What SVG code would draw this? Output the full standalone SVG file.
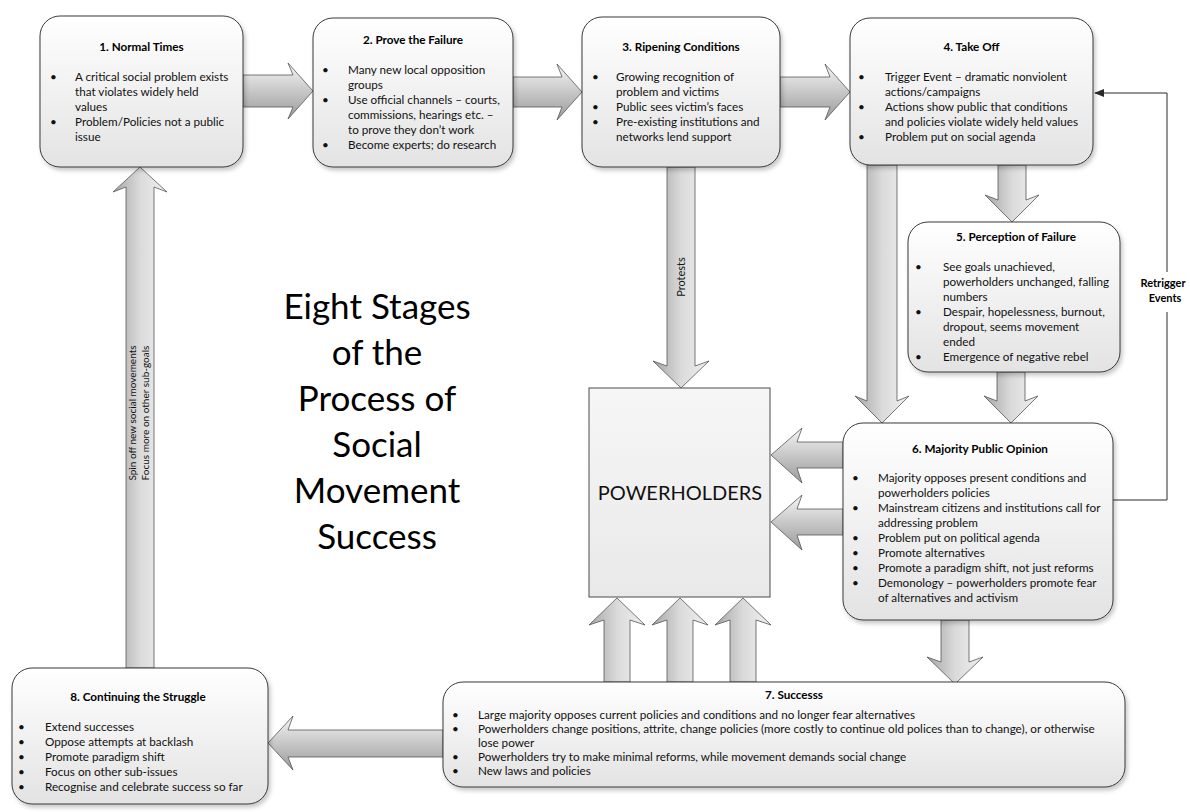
<svg xmlns="http://www.w3.org/2000/svg" width="1190" height="812" viewBox="0 0 1190 812">
<style>
text{font-family:Lato,"Liberation Sans",sans-serif;fill:#111}
.t{font-size:11.7px}
.r{font-size:10px}
.h{font-size:11.7px;font-weight:bold;text-anchor:middle;fill:#000}
.rt{font-size:11px;font-weight:bold;text-anchor:middle;fill:#000}
.box{fill:url(#gBox);stroke:#3a3a3a;stroke-width:1;filter:url(#sh)}
.ah{fill:url(#gH);stroke:#555;stroke-width:0.8}
.av{fill:url(#gV);stroke:#555;stroke-width:0.8}
.big{font-size:35px;text-anchor:middle;fill:#000}
.conn{fill:none;stroke:#2a2a2a;stroke-width:1}
</style>
<defs>
<linearGradient id="gBox" x1="0" y1="0" x2="0" y2="1"><stop offset="0" stop-color="#ffffff"/><stop offset="1" stop-color="#e3e3e3"/></linearGradient>
<linearGradient id="gPH" x1="0" y1="0" x2="0" y2="1"><stop offset="0" stop-color="#f6f6f6"/><stop offset="1" stop-color="#e9e9e9"/></linearGradient>
<linearGradient id="gH" x1="0" y1="0" x2="0" y2="1"><stop offset="0" stop-color="#f5f5f5"/><stop offset="1" stop-color="#9a9a9a"/></linearGradient>
<linearGradient id="gV" x1="0" y1="0" x2="1" y2="0"><stop offset="0" stop-color="#a5a5a5"/><stop offset="0.5" stop-color="#dadada"/><stop offset="1" stop-color="#f0f0f0"/></linearGradient>
<filter id="sh" x="-10%" y="-10%" width="125%" height="130%"><feDropShadow dx="2" dy="3" stdDeviation="2" flood-color="#000" flood-opacity="0.22"/></filter>
<marker id="tri" markerWidth="10" markerHeight="8" refX="9" refY="4" orient="auto" markerUnits="userSpaceOnUse"><path d="M0,0 L10,4 L0,8 Z" fill="#2a2a2a"/></marker>
</defs>

<g id="connectors">
<path class="ah" d="M243,75 H293 L288,63 L313,91 L288,119 L293,107 H243 Z"/>
<path class="ah" d="M513,77 H562 L557,64 L582,92 L557,120 L562,107 H513 Z"/>
<path class="ah" d="M780,77 H830 L825,64 L850,92 L825,120 L830,107 H780 Z"/>
<path class="av" d="M667,167 V366 L653,361 L681,388 L709,361 L695,366 V167 Z"/>
<text class="t" transform="translate(685,277) rotate(-90)" text-anchor="middle" style="font-size:11px">Protests</text>
<path class="av" d="M867,165 V401 L855,396 L882,423 L909,396 L897,401 V165 Z"/>
<path class="av" d="M998,165 V200 L985,195 L1012,222 L1039,195 L1026,200 V165 Z"/>
<path class="av" d="M997,372 V401 L984,396 L1011,423 L1038,396 L1025,401 V372 Z"/>
<path class="ah" d="M843,442 H797 L802,428 L771,455 L802,483 L797,468 H843 Z"/>
<path class="ah" d="M843,509 H797 L802,495 L771,522 L802,550 L797,535 H843 Z"/>
<path class="av" d="M604,682 V620 L589,625 L617,598 L645,625 L630,620 V682 Z"/>
<path class="av" d="M667,682 V620 L652,625 L680,598 L708,625 L693,620 V682 Z"/>
<path class="av" d="M730,682 V620 L715,625 L743,598 L771,625 L756,620 V682 Z"/>
<path class="av" d="M941,620 V662 L927,657 L955,684 L983,657 L969,662 V620 Z"/>
<path class="ah" d="M443,730 H288 L293,716 L268,743 L293,770 L288,757 H443 Z"/>
<path class="av" d="M126,668 V187 L113,192 L140,167 L167,192 L154,187 V668 Z"/>
<text class="r" transform="translate(136,413) rotate(-90)" text-anchor="middle">Spin off new social movements</text>
<text class="r" transform="translate(149,413) rotate(-90)" text-anchor="middle">Focus more on other sub-goals</text>
<path class="conn" d="M1113,500 H1167 V93 H1095" marker-end="url(#tri)"/>
<rect x="1136" y="272" width="54" height="40" fill="#fff"/>
<text class="rt" x="1163" y="287">Retrigger</text>
<text class="rt" x="1165" y="302">Events</text>
</g>

<g id="node1">
<rect class="box" x="40" y="16" width="203" height="151" rx="20"/>
<text class="h" x="141.5" y="51">1. Normal Times</text>
<text class="t" x="50" y="81">•</text><text class="t" x="75" y="81">A critical social problem exists</text>
<text class="t" x="75" y="96">that violates widely held</text>
<text class="t" x="75" y="111">values</text>
<text class="t" x="50" y="126">•</text><text class="t" x="75" y="126">Problem/Policies not a public</text>
<text class="t" x="75" y="141">issue</text>
</g>

<g id="node2">
<rect class="box" x="313" y="18" width="200" height="149" rx="20"/>
<text class="h" x="413" y="44">2. Prove the Failure</text>
<text class="t" x="322" y="74">•</text><text class="t" x="348" y="74">Many new local opposition</text>
<text class="t" x="348" y="89">groups</text>
<text class="t" x="322" y="104">•</text><text class="t" x="348" y="104">Use official channels – courts,</text>
<text class="t" x="348" y="119">commissions, hearings etc. –</text>
<text class="t" x="348" y="134">to prove they don’t work</text>
<text class="t" x="322" y="149">•</text><text class="t" x="348" y="149">Become experts; do research</text>
</g>

<g id="node3">
<rect class="box" x="582" y="17" width="198" height="150" rx="20"/>
<text class="h" x="681" y="51">3. Ripening Conditions</text>
<text class="t" x="592" y="81">•</text><text class="t" x="616" y="81">Growing recognition of</text>
<text class="t" x="616" y="96">problem and victims</text>
<text class="t" x="592" y="111">•</text><text class="t" x="616" y="111">Public sees victim’s faces</text>
<text class="t" x="592" y="126">•</text><text class="t" x="616" y="126">Pre-existing institutions and</text>
<text class="t" x="616" y="141">networks lend support</text>
</g>

<g id="node4">
<rect class="box" x="850" y="18" width="243" height="147" rx="20"/>
<text class="h" x="971.5" y="51">4. Take Off</text>
<text class="t" x="858" y="81">•</text><text class="t" x="885" y="81">Trigger Event – dramatic nonviolent</text>
<text class="t" x="885" y="96">actions/campaigns</text>
<text class="t" x="858" y="111">•</text><text class="t" x="885" y="111">Actions show public that conditions</text>
<text class="t" x="885" y="126">and policies violate widely held values</text>
<text class="t" x="858" y="141">•</text><text class="t" x="885" y="141">Problem put on social agenda</text>
</g>

<g id="node5">
<rect class="box" x="908" y="222" width="212" height="150" rx="20"/>
<text class="h" x="1016" y="241">5. Perception of Failure</text>
<text class="t" x="915" y="271">•</text><text class="t" x="943" y="271">See goals unachieved,</text>
<text class="t" x="943" y="286">powerholders unchanged, falling</text>
<text class="t" x="943" y="301">numbers</text>
<text class="t" x="915" y="316">•</text><text class="t" x="943" y="316">Despair, hopelessness, burnout,</text>
<text class="t" x="943" y="331">dropout, seems movement</text>
<text class="t" x="943" y="346">ended</text>
<text class="t" x="915" y="361">•</text><text class="t" x="943" y="361">Emergence of negative rebel</text>
</g>

<g id="node6">
<rect class="box" x="843" y="423" width="270" height="197" rx="20"/>
<text class="h" x="980" y="453">6. Majority Public Opinion</text>
<text class="t" x="852" y="482">•</text><text class="t" x="878" y="482">Majority opposes present conditions and</text>
<text class="t" x="878" y="497">powerholders policies</text>
<text class="t" x="852" y="512">•</text><text class="t" x="878" y="512">Mainstream citizens and institutions call for</text>
<text class="t" x="878" y="527">addressing problem</text>
<text class="t" x="852" y="542">•</text><text class="t" x="878" y="542">Problem put on political agenda</text>
<text class="t" x="852" y="557">•</text><text class="t" x="878" y="557">Promote alternatives</text>
<text class="t" x="852" y="572">•</text><text class="t" x="878" y="572">Promote a paradigm shift, not just reforms</text>
<text class="t" x="852" y="587">•</text><text class="t" x="878" y="587">Demonology – powerholders promote fear</text>
<text class="t" x="878" y="602">of alternatives and activism</text>
</g>

<g id="node7">
<rect class="box" x="443" y="682" width="682" height="105" rx="20"/>
<text class="h" x="794" y="699">7. Successs</text>
<text class="t" x="452" y="719">•</text><text class="t" x="478" y="719">Large majority opposes current policies and conditions and no longer fear alternatives</text>
<text class="t" x="452" y="733">•</text><text class="t" x="478" y="733">Powerholders change positions, attrite, change policies (more costly to continue old polices than to change), or otherwise</text>
<text class="t" x="478" y="747">lose power</text>
<text class="t" x="452" y="761">•</text><text class="t" x="478" y="761">Powerholders try to make minimal reforms, while movement demands social change</text>
<text class="t" x="452" y="775">•</text><text class="t" x="478" y="775">New laws and policies</text>
</g>

<g id="node8">
<rect class="box" x="12" y="668" width="256" height="136" rx="20"/>
<text class="h" x="138" y="701">8. Continuing the Struggle</text>
<text class="t" x="18" y="731">•</text><text class="t" x="45" y="731">Extend successes</text>
<text class="t" x="18" y="746">•</text><text class="t" x="45" y="746">Oppose attempts at backlash</text>
<text class="t" x="18" y="761">•</text><text class="t" x="45" y="761">Promote paradigm shift</text>
<text class="t" x="18" y="776">•</text><text class="t" x="45" y="776">Focus on other sub-issues</text>
<text class="t" x="18" y="791">•</text><text class="t" x="45" y="791">Recognise and celebrate success so far</text>
</g>

<g id="powerholders">
<rect x="589" y="388" width="181" height="209" fill="url(#gPH)" stroke="#4a4a4a" stroke-width="1"/>
<text x="680" y="500" font-size="20" text-anchor="middle" fill="#111">POWERHOLDERS</text>
</g>

<g id="title">
<text class="big" x="377" y="319">Eight Stages</text>
<text class="big" x="377" y="365">of the</text>
<text class="big" x="377" y="411">Process of</text>
<text class="big" x="377" y="457">Social</text>
<text class="big" x="377" y="503">Movement</text>
<text class="big" x="377" y="549">Success</text>
</g>
</svg>
